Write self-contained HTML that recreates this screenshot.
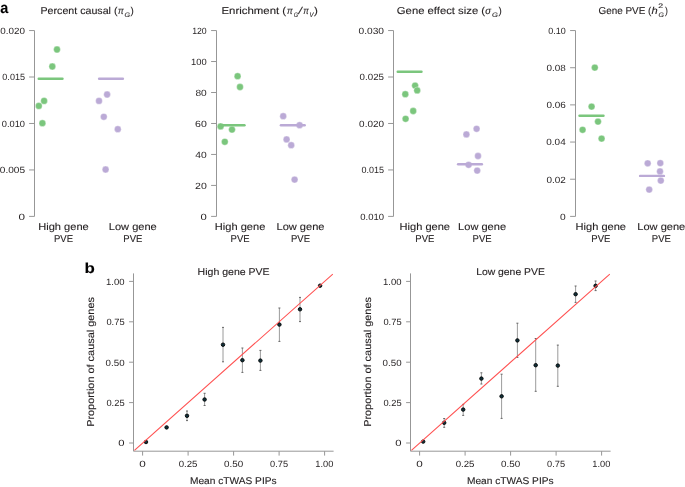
<!DOCTYPE html>
<html><head><meta charset="utf-8"><style>
html,body{margin:0;padding:0;background:#fff;}
body{width:685px;height:487px;overflow:hidden;}
text{stroke:#231f20;stroke-width:0.12px;}
text.k{stroke:none;}
svg{display:block;will-change:transform;font-family:"Liberation Sans",sans-serif;text-rendering:geometricPrecision;}
</style></head><body>
<svg width="685" height="487" viewBox="0 0 685 487">
<rect width="685" height="487" fill="#fff"/>
<text x="0.18" y="13.20" font-size="15.5" font-weight="bold" font-style="normal" fill="#000" textLength="8.03" lengthAdjust="spacingAndGlyphs">a</text>
<text x="84.59" y="273.40" font-size="14.5" font-weight="bold" font-style="normal" fill="#000" textLength="10.30" lengthAdjust="spacingAndGlyphs">b</text>
<line x1="34.5" y1="30.55" x2="34.5" y2="216.4" stroke="#979797" stroke-width="1" stroke-linecap="butt"/>
<line x1="29.1" y1="30.55" x2="34.5" y2="30.55" stroke="#979797" stroke-width="1" stroke-linecap="butt"/>
<text class="k" x="0.31" y="33.85" font-size="9.0" font-weight="normal" font-style="normal" fill="#231f20" textLength="24.67" lengthAdjust="spacingAndGlyphs">0.020</text>
<line x1="29.1" y1="77.0125" x2="34.5" y2="77.0125" stroke="#979797" stroke-width="1" stroke-linecap="butt"/>
<text class="k" x="2.35" y="80.31" font-size="9.0" font-weight="normal" font-style="normal" fill="#231f20" textLength="22.63" lengthAdjust="spacingAndGlyphs">0.015</text>
<line x1="29.1" y1="123.475" x2="34.5" y2="123.475" stroke="#979797" stroke-width="1" stroke-linecap="butt"/>
<text class="k" x="1.74" y="126.77" font-size="9.0" font-weight="normal" font-style="normal" fill="#231f20" textLength="23.23" lengthAdjust="spacingAndGlyphs">0.010</text>
<line x1="29.1" y1="169.9375" x2="34.5" y2="169.9375" stroke="#979797" stroke-width="1" stroke-linecap="butt"/>
<text class="k" x="-0.19" y="173.24" font-size="9.0" font-weight="normal" font-style="normal" fill="#231f20" textLength="25.22" lengthAdjust="spacingAndGlyphs">0.005</text>
<line x1="29.1" y1="216.4" x2="34.5" y2="216.4" stroke="#979797" stroke-width="1" stroke-linecap="butt"/>
<text class="k" x="18.54" y="219.70" font-size="9.0" font-weight="normal" font-style="normal" fill="#231f20" textLength="6.52" lengthAdjust="spacingAndGlyphs">0</text>
<circle cx="57" cy="49.5" r="3.4" fill="#7bc67d" stroke="#fff" stroke-width="0.35"/>
<circle cx="52.3" cy="66.5" r="3.4" fill="#7bc67d" stroke="#fff" stroke-width="0.35"/>
<circle cx="44.1" cy="100.9" r="3.4" fill="#7bc67d" stroke="#fff" stroke-width="0.35"/>
<circle cx="38.8" cy="105.9" r="3.4" fill="#7bc67d" stroke="#fff" stroke-width="0.35"/>
<circle cx="42.4" cy="123.2" r="3.4" fill="#7bc67d" stroke="#fff" stroke-width="0.35"/>
<line x1="38.7" y1="78.69999999999999" x2="62.5" y2="78.69999999999999" stroke="#7bc67d" stroke-width="2.4" stroke-linecap="round"/>
<circle cx="107.1" cy="94.5" r="3.4" fill="#bbaad6" stroke="#fff" stroke-width="0.35"/>
<circle cx="99" cy="100.9" r="3.4" fill="#bbaad6" stroke="#fff" stroke-width="0.35"/>
<circle cx="103.8" cy="116.8" r="3.4" fill="#bbaad6" stroke="#fff" stroke-width="0.35"/>
<circle cx="117.8" cy="129.2" r="3.4" fill="#bbaad6" stroke="#fff" stroke-width="0.35"/>
<circle cx="105.6" cy="169.5" r="3.4" fill="#bbaad6" stroke="#fff" stroke-width="0.35"/>
<line x1="99.1" y1="78.69999999999999" x2="122.9" y2="78.69999999999999" stroke="#bbaad6" stroke-width="2.4" stroke-linecap="round"/>
<text x="38.24" y="230.00" font-size="10.0" font-weight="normal" font-style="normal" fill="#231f20" textLength="50.50" lengthAdjust="spacingAndGlyphs">High gene</text>
<text x="54.02" y="241.90" font-size="10.0" font-weight="normal" font-style="normal" fill="#231f20" textLength="18.99" lengthAdjust="spacingAndGlyphs">PVE</text>
<text x="108.79" y="230.00" font-size="10.0" font-weight="normal" font-style="normal" fill="#231f20" textLength="48.00" lengthAdjust="spacingAndGlyphs">Low gene</text>
<text x="123.32" y="241.90" font-size="10.0" font-weight="normal" font-style="normal" fill="#231f20" textLength="18.99" lengthAdjust="spacingAndGlyphs">PVE</text>
<line x1="216.5" y1="30.55" x2="216.5" y2="216.4" stroke="#979797" stroke-width="1" stroke-linecap="butt"/>
<line x1="211.1" y1="30.55" x2="216.5" y2="30.55" stroke="#979797" stroke-width="1" stroke-linecap="butt"/>
<text class="k" x="192.13" y="33.85" font-size="9.0" font-weight="normal" font-style="normal" fill="#231f20" textLength="14.61" lengthAdjust="spacingAndGlyphs">120</text>
<line x1="211.1" y1="61.525" x2="216.5" y2="61.525" stroke="#979797" stroke-width="1" stroke-linecap="butt"/>
<text class="k" x="191.08" y="64.83" font-size="9.0" font-weight="normal" font-style="normal" fill="#231f20" textLength="15.68" lengthAdjust="spacingAndGlyphs">100</text>
<line x1="211.1" y1="92.5" x2="216.5" y2="92.5" stroke="#979797" stroke-width="1" stroke-linecap="butt"/>
<text class="k" x="195.46" y="95.80" font-size="9.0" font-weight="normal" font-style="normal" fill="#231f20" textLength="11.34" lengthAdjust="spacingAndGlyphs">80</text>
<line x1="211.1" y1="123.475" x2="216.5" y2="123.475" stroke="#979797" stroke-width="1" stroke-linecap="butt"/>
<text class="k" x="195.06" y="126.77" font-size="9.0" font-weight="normal" font-style="normal" fill="#231f20" textLength="11.75" lengthAdjust="spacingAndGlyphs">60</text>
<line x1="211.1" y1="154.45" x2="216.5" y2="154.45" stroke="#979797" stroke-width="1" stroke-linecap="butt"/>
<text class="k" x="195.36" y="157.75" font-size="9.0" font-weight="normal" font-style="normal" fill="#231f20" textLength="11.44" lengthAdjust="spacingAndGlyphs">40</text>
<line x1="211.1" y1="185.425" x2="216.5" y2="185.425" stroke="#979797" stroke-width="1" stroke-linecap="butt"/>
<text class="k" x="195.07" y="188.73" font-size="9.0" font-weight="normal" font-style="normal" fill="#231f20" textLength="11.74" lengthAdjust="spacingAndGlyphs">20</text>
<line x1="211.1" y1="216.4" x2="216.5" y2="216.4" stroke="#979797" stroke-width="1" stroke-linecap="butt"/>
<text class="k" x="200.56" y="219.70" font-size="9.0" font-weight="normal" font-style="normal" fill="#231f20" textLength="6.28" lengthAdjust="spacingAndGlyphs">0</text>
<circle cx="237.6" cy="76.2" r="3.4" fill="#7bc67d" stroke="#fff" stroke-width="0.35"/>
<circle cx="240" cy="87" r="3.4" fill="#7bc67d" stroke="#fff" stroke-width="0.35"/>
<circle cx="220.6" cy="126.4" r="3.4" fill="#7bc67d" stroke="#fff" stroke-width="0.35"/>
<circle cx="232" cy="129.6" r="3.4" fill="#7bc67d" stroke="#fff" stroke-width="0.35"/>
<circle cx="224.8" cy="141.8" r="3.4" fill="#7bc67d" stroke="#fff" stroke-width="0.35"/>
<line x1="220.1" y1="125.3" x2="244.5" y2="125.3" stroke="#7bc67d" stroke-width="2.4" stroke-linecap="round"/>
<circle cx="283.2" cy="116.2" r="3.4" fill="#bbaad6" stroke="#fff" stroke-width="0.35"/>
<circle cx="299.6" cy="125.2" r="3.4" fill="#bbaad6" stroke="#fff" stroke-width="0.35"/>
<circle cx="286.6" cy="139.4" r="3.4" fill="#bbaad6" stroke="#fff" stroke-width="0.35"/>
<circle cx="291.2" cy="145.2" r="3.4" fill="#bbaad6" stroke="#fff" stroke-width="0.35"/>
<circle cx="294.6" cy="179.6" r="3.4" fill="#bbaad6" stroke="#fff" stroke-width="0.35"/>
<line x1="280.90000000000003" y1="125.3" x2="304.7" y2="125.3" stroke="#bbaad6" stroke-width="2.4" stroke-linecap="round"/>
<text x="214.84" y="230.00" font-size="10.0" font-weight="normal" font-style="normal" fill="#231f20" textLength="50.50" lengthAdjust="spacingAndGlyphs">High gene</text>
<text x="230.62" y="241.90" font-size="10.0" font-weight="normal" font-style="normal" fill="#231f20" textLength="18.99" lengthAdjust="spacingAndGlyphs">PVE</text>
<text x="276.49" y="230.00" font-size="10.0" font-weight="normal" font-style="normal" fill="#231f20" textLength="48.00" lengthAdjust="spacingAndGlyphs">Low gene</text>
<text x="291.02" y="241.90" font-size="10.0" font-weight="normal" font-style="normal" fill="#231f20" textLength="18.99" lengthAdjust="spacingAndGlyphs">PVE</text>
<line x1="393.5" y1="30.55" x2="393.5" y2="216.4" stroke="#979797" stroke-width="1" stroke-linecap="butt"/>
<line x1="388.1" y1="30.55" x2="393.5" y2="30.55" stroke="#979797" stroke-width="1" stroke-linecap="butt"/>
<text class="k" x="358.50" y="33.85" font-size="9.0" font-weight="normal" font-style="normal" fill="#231f20" textLength="25.50" lengthAdjust="spacingAndGlyphs">0.030</text>
<line x1="388.1" y1="77.0125" x2="393.5" y2="77.0125" stroke="#979797" stroke-width="1" stroke-linecap="butt"/>
<text class="k" x="359.62" y="80.31" font-size="9.0" font-weight="normal" font-style="normal" fill="#231f20" textLength="24.39" lengthAdjust="spacingAndGlyphs">0.025</text>
<line x1="388.1" y1="123.475" x2="393.5" y2="123.475" stroke="#979797" stroke-width="1" stroke-linecap="butt"/>
<text class="k" x="359.11" y="126.77" font-size="9.0" font-weight="normal" font-style="normal" fill="#231f20" textLength="24.88" lengthAdjust="spacingAndGlyphs">0.020</text>
<line x1="388.1" y1="169.9375" x2="393.5" y2="169.9375" stroke="#979797" stroke-width="1" stroke-linecap="butt"/>
<text class="k" x="361.45" y="173.24" font-size="9.0" font-weight="normal" font-style="normal" fill="#231f20" textLength="22.53" lengthAdjust="spacingAndGlyphs">0.015</text>
<line x1="388.1" y1="216.4" x2="393.5" y2="216.4" stroke="#979797" stroke-width="1" stroke-linecap="butt"/>
<text class="k" x="360.23" y="219.70" font-size="9.0" font-weight="normal" font-style="normal" fill="#231f20" textLength="23.74" lengthAdjust="spacingAndGlyphs">0.010</text>
<circle cx="415.1" cy="85.6" r="3.4" fill="#7bc67d" stroke="#fff" stroke-width="0.35"/>
<circle cx="417.2" cy="90.4" r="3.4" fill="#7bc67d" stroke="#fff" stroke-width="0.35"/>
<circle cx="405.3" cy="94.2" r="3.4" fill="#7bc67d" stroke="#fff" stroke-width="0.35"/>
<circle cx="413.2" cy="111" r="3.4" fill="#7bc67d" stroke="#fff" stroke-width="0.35"/>
<circle cx="405.6" cy="118.8" r="3.4" fill="#7bc67d" stroke="#fff" stroke-width="0.35"/>
<line x1="397.70000000000005" y1="71.69999999999999" x2="421.5" y2="71.69999999999999" stroke="#7bc67d" stroke-width="2.4" stroke-linecap="round"/>
<circle cx="476.6" cy="128.8" r="3.4" fill="#bbaad6" stroke="#fff" stroke-width="0.35"/>
<circle cx="466.4" cy="134.4" r="3.4" fill="#bbaad6" stroke="#fff" stroke-width="0.35"/>
<circle cx="478" cy="156" r="3.4" fill="#bbaad6" stroke="#fff" stroke-width="0.35"/>
<circle cx="468.6" cy="164.8" r="3.4" fill="#bbaad6" stroke="#fff" stroke-width="0.35"/>
<circle cx="477.2" cy="170.6" r="3.4" fill="#bbaad6" stroke="#fff" stroke-width="0.35"/>
<line x1="458.1" y1="164.29999999999998" x2="481.9" y2="164.29999999999998" stroke="#bbaad6" stroke-width="2.4" stroke-linecap="round"/>
<text x="399.54" y="230.00" font-size="10.0" font-weight="normal" font-style="normal" fill="#231f20" textLength="50.50" lengthAdjust="spacingAndGlyphs">High gene</text>
<text x="415.32" y="241.90" font-size="10.0" font-weight="normal" font-style="normal" fill="#231f20" textLength="18.99" lengthAdjust="spacingAndGlyphs">PVE</text>
<text x="458.09" y="230.00" font-size="10.0" font-weight="normal" font-style="normal" fill="#231f20" textLength="48.00" lengthAdjust="spacingAndGlyphs">Low gene</text>
<text x="472.62" y="241.90" font-size="10.0" font-weight="normal" font-style="normal" fill="#231f20" textLength="18.99" lengthAdjust="spacingAndGlyphs">PVE</text>
<line x1="575.5" y1="30.55" x2="575.5" y2="216.4" stroke="#979797" stroke-width="1" stroke-linecap="butt"/>
<line x1="570.1" y1="30.55" x2="575.5" y2="30.55" stroke="#979797" stroke-width="1" stroke-linecap="butt"/>
<text class="k" x="548.25" y="33.85" font-size="9.0" font-weight="normal" font-style="normal" fill="#231f20" textLength="17.50" lengthAdjust="spacingAndGlyphs">0.10</text>
<line x1="570.1" y1="67.72" x2="575.5" y2="67.72" stroke="#979797" stroke-width="1" stroke-linecap="butt"/>
<text class="k" x="546.51" y="71.02" font-size="9.0" font-weight="normal" font-style="normal" fill="#231f20" textLength="19.32" lengthAdjust="spacingAndGlyphs">0.08</text>
<line x1="570.1" y1="104.89" x2="575.5" y2="104.89" stroke="#979797" stroke-width="1" stroke-linecap="butt"/>
<text class="k" x="546.51" y="108.19" font-size="9.0" font-weight="normal" font-style="normal" fill="#231f20" textLength="19.32" lengthAdjust="spacingAndGlyphs">0.06</text>
<line x1="570.1" y1="142.06" x2="575.5" y2="142.06" stroke="#979797" stroke-width="1" stroke-linecap="butt"/>
<text class="k" x="546.31" y="145.36" font-size="9.0" font-weight="normal" font-style="normal" fill="#231f20" textLength="19.38" lengthAdjust="spacingAndGlyphs">0.04</text>
<line x1="570.1" y1="179.23000000000002" x2="575.5" y2="179.23000000000002" stroke="#979797" stroke-width="1" stroke-linecap="butt"/>
<text class="k" x="546.51" y="182.53" font-size="9.0" font-weight="normal" font-style="normal" fill="#231f20" textLength="19.39" lengthAdjust="spacingAndGlyphs">0.02</text>
<line x1="570.1" y1="216.4" x2="575.5" y2="216.4" stroke="#979797" stroke-width="1" stroke-linecap="butt"/>
<text class="k" x="560.10" y="219.70" font-size="9.0" font-weight="normal" font-style="normal" fill="#231f20" textLength="5.70" lengthAdjust="spacingAndGlyphs">0</text>
<circle cx="594.8" cy="67.6" r="3.4" fill="#7bc67d" stroke="#fff" stroke-width="0.35"/>
<circle cx="591.6" cy="106.6" r="3.4" fill="#7bc67d" stroke="#fff" stroke-width="0.35"/>
<circle cx="598" cy="121.6" r="3.4" fill="#7bc67d" stroke="#fff" stroke-width="0.35"/>
<circle cx="582.6" cy="129.8" r="3.4" fill="#7bc67d" stroke="#fff" stroke-width="0.35"/>
<circle cx="601.6" cy="138.6" r="3.4" fill="#7bc67d" stroke="#fff" stroke-width="0.35"/>
<line x1="579.5" y1="115.69999999999999" x2="603.5" y2="115.69999999999999" stroke="#7bc67d" stroke-width="2.4" stroke-linecap="round"/>
<circle cx="647.7" cy="163.3" r="3.4" fill="#bbaad6" stroke="#fff" stroke-width="0.35"/>
<circle cx="660.3" cy="163.1" r="3.4" fill="#bbaad6" stroke="#fff" stroke-width="0.35"/>
<circle cx="660" cy="171.4" r="3.4" fill="#bbaad6" stroke="#fff" stroke-width="0.35"/>
<circle cx="660.8" cy="180.6" r="3.4" fill="#bbaad6" stroke="#fff" stroke-width="0.35"/>
<circle cx="649.2" cy="189.6" r="3.4" fill="#bbaad6" stroke="#fff" stroke-width="0.35"/>
<line x1="640.1" y1="175.9" x2="663.9" y2="175.9" stroke="#bbaad6" stroke-width="2.4" stroke-linecap="round"/>
<text x="575.54" y="230.00" font-size="10.0" font-weight="normal" font-style="normal" fill="#231f20" textLength="50.50" lengthAdjust="spacingAndGlyphs">High gene</text>
<text x="591.32" y="241.90" font-size="10.0" font-weight="normal" font-style="normal" fill="#231f20" textLength="18.99" lengthAdjust="spacingAndGlyphs">PVE</text>
<text x="637.29" y="230.00" font-size="10.0" font-weight="normal" font-style="normal" fill="#231f20" textLength="48.00" lengthAdjust="spacingAndGlyphs">Low gene</text>
<text x="651.82" y="241.90" font-size="10.0" font-weight="normal" font-style="normal" fill="#231f20" textLength="18.99" lengthAdjust="spacingAndGlyphs">PVE</text>
<text x="40.53" y="13.90" font-size="10.0" font-weight="normal" font-style="normal" fill="#231f20" textLength="76.94" lengthAdjust="spacingAndGlyphs">Percent causal (</text>
<text x="118.12" y="13.90" font-size="10.0" font-weight="normal" font-style="italic" fill="#231f20" textLength="5.75" lengthAdjust="spacingAndGlyphs">π</text>
<text x="124.55" y="16.90" font-size="6.4" font-weight="normal" font-style="italic" fill="#231f20" textLength="5.56" lengthAdjust="spacingAndGlyphs">G</text>
<text x="130.44" y="13.90" font-size="10.0" font-weight="normal" font-style="normal" fill="#231f20" textLength="3.27" lengthAdjust="spacingAndGlyphs">)</text>
<text x="221.46" y="13.90" font-size="10.0" font-weight="normal" font-style="normal" fill="#231f20" textLength="64.70" lengthAdjust="spacingAndGlyphs">Enrichment (</text>
<text x="287.12" y="13.90" font-size="10.0" font-weight="normal" font-style="italic" fill="#231f20" textLength="5.75" lengthAdjust="spacingAndGlyphs">π</text>
<text x="293.83" y="16.90" font-size="6.4" font-weight="normal" font-style="italic" fill="#231f20" textLength="4.31" lengthAdjust="spacingAndGlyphs">G</text>
<text x="298.60" y="13.90" font-size="10.0" font-weight="normal" font-style="italic" fill="#231f20" textLength="3.44" lengthAdjust="spacingAndGlyphs">/</text>
<text x="303.33" y="13.90" font-size="10.0" font-weight="normal" font-style="italic" fill="#231f20" textLength="5.54" lengthAdjust="spacingAndGlyphs">π</text>
<text x="309.39" y="16.90" font-size="6.4" font-weight="normal" font-style="italic" fill="#231f20" textLength="3.95" lengthAdjust="spacingAndGlyphs">V</text>
<text x="314.13" y="13.90" font-size="10.0" font-weight="normal" font-style="normal" fill="#231f20" textLength="3.89" lengthAdjust="spacingAndGlyphs">)</text>
<text x="396.83" y="13.90" font-size="10.0" font-weight="normal" font-style="normal" fill="#231f20" textLength="88.23" lengthAdjust="spacingAndGlyphs">Gene effect size (</text>
<text x="485.19" y="13.90" font-size="10.0" font-weight="normal" font-style="italic" fill="#231f20" textLength="5.72" lengthAdjust="spacingAndGlyphs">σ</text>
<text x="492.13" y="16.90" font-size="6.4" font-weight="normal" font-style="italic" fill="#231f20" textLength="5.90" lengthAdjust="spacingAndGlyphs">G</text>
<text x="498.54" y="13.90" font-size="10.0" font-weight="normal" font-style="normal" fill="#231f20" textLength="3.27" lengthAdjust="spacingAndGlyphs">)</text>
<text x="598.50" y="13.90" font-size="10.0" font-weight="normal" font-style="normal" fill="#231f20" textLength="52.86" lengthAdjust="spacingAndGlyphs">Gene PVE (</text>
<text x="651.42" y="13.90" font-size="10.0" font-weight="normal" font-style="italic" fill="#231f20" textLength="6.20" lengthAdjust="spacingAndGlyphs">h</text>
<text x="658.16" y="8.00" font-size="6.4" font-weight="normal" font-style="normal" fill="#231f20" textLength="4.88" lengthAdjust="spacingAndGlyphs">2</text>
<text x="658.55" y="16.60" font-size="6.4" font-weight="normal" font-style="italic" fill="#231f20" textLength="5.45" lengthAdjust="spacingAndGlyphs">G</text>
<text x="664.95" y="13.90" font-size="10.0" font-weight="normal" font-style="normal" fill="#231f20" textLength="2.89" lengthAdjust="spacingAndGlyphs">)</text>
<clipPath id="clip0"><rect x="133.5" y="273.4" width="200.4" height="177.8"/></clipPath>
<path d="M133.5 273.4 V451.2 H333.6" fill="none" stroke="#979797" stroke-width="1"/>
<line x1="129.1" y1="443.0" x2="133.5" y2="443.0" stroke="#979797" stroke-width="1" stroke-linecap="butt"/>
<text class="k" x="118.36" y="446.30" font-size="9.0" font-weight="normal" font-style="normal" fill="#231f20" textLength="6.28" lengthAdjust="spacingAndGlyphs">0</text>
<line x1="142.6" y1="451.2" x2="142.6" y2="455.59999999999997" stroke="#979797" stroke-width="1" stroke-linecap="butt"/>
<text class="k" x="139.34" y="466.80" font-size="9.0" font-weight="normal" font-style="normal" fill="#231f20" textLength="6.52" lengthAdjust="spacingAndGlyphs">0</text>
<line x1="129.1" y1="402.6" x2="133.5" y2="402.6" stroke="#979797" stroke-width="1" stroke-linecap="butt"/>
<text class="k" x="106.44" y="405.90" font-size="9.0" font-weight="normal" font-style="normal" fill="#231f20" textLength="18.16" lengthAdjust="spacingAndGlyphs">0.25</text>
<line x1="188.1" y1="451.2" x2="188.1" y2="455.59999999999997" stroke="#979797" stroke-width="1" stroke-linecap="butt"/>
<text class="k" x="178.72" y="466.80" font-size="9.0" font-weight="normal" font-style="normal" fill="#231f20" textLength="18.78" lengthAdjust="spacingAndGlyphs">0.25</text>
<line x1="129.1" y1="362.2" x2="133.5" y2="362.2" stroke="#979797" stroke-width="1" stroke-linecap="butt"/>
<text class="k" x="105.62" y="365.50" font-size="9.0" font-weight="normal" font-style="normal" fill="#231f20" textLength="18.96" lengthAdjust="spacingAndGlyphs">0.50</text>
<line x1="233.6" y1="451.2" x2="233.6" y2="455.59999999999997" stroke="#979797" stroke-width="1" stroke-linecap="butt"/>
<text class="k" x="224.02" y="466.80" font-size="9.0" font-weight="normal" font-style="normal" fill="#231f20" textLength="19.17" lengthAdjust="spacingAndGlyphs">0.50</text>
<line x1="129.1" y1="321.8" x2="133.5" y2="321.8" stroke="#979797" stroke-width="1" stroke-linecap="butt"/>
<text class="k" x="106.44" y="325.10" font-size="9.0" font-weight="normal" font-style="normal" fill="#231f20" textLength="18.16" lengthAdjust="spacingAndGlyphs">0.75</text>
<line x1="279.1" y1="451.2" x2="279.1" y2="455.59999999999997" stroke="#979797" stroke-width="1" stroke-linecap="butt"/>
<text class="k" x="270.14" y="466.80" font-size="9.0" font-weight="normal" font-style="normal" fill="#231f20" textLength="17.95" lengthAdjust="spacingAndGlyphs">0.75</text>
<line x1="129.1" y1="281.4" x2="133.5" y2="281.4" stroke="#979797" stroke-width="1" stroke-linecap="butt"/>
<text class="k" x="106.08" y="284.70" font-size="9.0" font-weight="normal" font-style="normal" fill="#231f20" textLength="18.50" lengthAdjust="spacingAndGlyphs">1.00</text>
<line x1="324.6" y1="451.2" x2="324.6" y2="455.59999999999997" stroke="#979797" stroke-width="1" stroke-linecap="butt"/>
<text class="k" x="315.39" y="466.80" font-size="9.0" font-weight="normal" font-style="normal" fill="#231f20" textLength="18.07" lengthAdjust="spacingAndGlyphs">1.00</text>
<circle cx="146.0" cy="442.0" r="1.75" fill="#10303a" stroke="#020405" stroke-width="0.9"/>
<circle cx="166.6" cy="427.4" r="1.75" fill="#10303a" stroke="#020405" stroke-width="0.9"/>
<line x1="187.0" y1="411.0" x2="187.0" y2="420.6" stroke="#828282" stroke-width="0.8" stroke-linecap="butt"/>
<line x1="186.0" y1="411.0" x2="188.0" y2="411.0" stroke="#5a5a5a" stroke-width="0.9" stroke-linecap="butt"/>
<line x1="186.0" y1="420.6" x2="188.0" y2="420.6" stroke="#5a5a5a" stroke-width="0.9" stroke-linecap="butt"/>
<circle cx="187.0" cy="415.8" r="1.75" fill="#10303a" stroke="#020405" stroke-width="0.9"/>
<line x1="204.6" y1="393.3" x2="204.6" y2="405.5" stroke="#828282" stroke-width="0.8" stroke-linecap="butt"/>
<line x1="203.6" y1="393.3" x2="205.6" y2="393.3" stroke="#5a5a5a" stroke-width="0.9" stroke-linecap="butt"/>
<line x1="203.6" y1="405.5" x2="205.6" y2="405.5" stroke="#5a5a5a" stroke-width="0.9" stroke-linecap="butt"/>
<circle cx="204.6" cy="399.5" r="1.75" fill="#10303a" stroke="#020405" stroke-width="0.9"/>
<line x1="223.0" y1="327.4" x2="223.0" y2="361.8" stroke="#828282" stroke-width="0.8" stroke-linecap="butt"/>
<line x1="222.0" y1="327.4" x2="224.0" y2="327.4" stroke="#5a5a5a" stroke-width="0.9" stroke-linecap="butt"/>
<line x1="222.0" y1="361.8" x2="224.0" y2="361.8" stroke="#5a5a5a" stroke-width="0.9" stroke-linecap="butt"/>
<circle cx="223.0" cy="344.7" r="1.75" fill="#10303a" stroke="#020405" stroke-width="0.9"/>
<line x1="242.4" y1="348.0" x2="242.4" y2="372.4" stroke="#828282" stroke-width="0.8" stroke-linecap="butt"/>
<line x1="241.4" y1="348.0" x2="243.4" y2="348.0" stroke="#5a5a5a" stroke-width="0.9" stroke-linecap="butt"/>
<line x1="241.4" y1="372.4" x2="243.4" y2="372.4" stroke="#5a5a5a" stroke-width="0.9" stroke-linecap="butt"/>
<circle cx="242.4" cy="360.2" r="1.75" fill="#10303a" stroke="#020405" stroke-width="0.9"/>
<line x1="260.4" y1="350.4" x2="260.4" y2="370.4" stroke="#828282" stroke-width="0.8" stroke-linecap="butt"/>
<line x1="259.4" y1="350.4" x2="261.4" y2="350.4" stroke="#5a5a5a" stroke-width="0.9" stroke-linecap="butt"/>
<line x1="259.4" y1="370.4" x2="261.4" y2="370.4" stroke="#5a5a5a" stroke-width="0.9" stroke-linecap="butt"/>
<circle cx="260.4" cy="360.6" r="1.75" fill="#10303a" stroke="#020405" stroke-width="0.9"/>
<line x1="279.4" y1="308.0" x2="279.4" y2="341.4" stroke="#828282" stroke-width="0.8" stroke-linecap="butt"/>
<line x1="278.4" y1="308.0" x2="280.4" y2="308.0" stroke="#5a5a5a" stroke-width="0.9" stroke-linecap="butt"/>
<line x1="278.4" y1="341.4" x2="280.4" y2="341.4" stroke="#5a5a5a" stroke-width="0.9" stroke-linecap="butt"/>
<circle cx="279.4" cy="324.6" r="1.75" fill="#10303a" stroke="#020405" stroke-width="0.9"/>
<line x1="300.0" y1="297.4" x2="300.0" y2="321.6" stroke="#828282" stroke-width="0.8" stroke-linecap="butt"/>
<line x1="299.0" y1="297.4" x2="301.0" y2="297.4" stroke="#5a5a5a" stroke-width="0.9" stroke-linecap="butt"/>
<line x1="299.0" y1="321.6" x2="301.0" y2="321.6" stroke="#5a5a5a" stroke-width="0.9" stroke-linecap="butt"/>
<circle cx="300.0" cy="309.3" r="1.75" fill="#10303a" stroke="#020405" stroke-width="0.9"/>
<circle cx="320.1" cy="285.7" r="1.75" fill="#10303a" stroke="#020405" stroke-width="0.9"/>
<line x1="134.41" y1="450.27" x2="332.79" y2="274.13" stroke="#ff4f4f" stroke-width="1.05"/>
<text x="197.64" y="274.60" font-size="9.7" font-weight="normal" font-style="normal" fill="#231f20" textLength="72.02" lengthAdjust="spacingAndGlyphs">High gene PVE</text>
<text x="189.97" y="483.90" font-size="9.8" font-weight="normal" font-style="normal" fill="#231f20" textLength="86.60" lengthAdjust="spacingAndGlyphs">Mean cTWAS PIPs</text>
<g transform="translate(93.8 361.75) rotate(-90)">
<text x="-65.14" y="0" font-size="10.0" fill="#231f20" textLength="129.79" lengthAdjust="spacingAndGlyphs">Proportion of causal genes</text>
</g>
<clipPath id="clip277"><rect x="410.5" y="273.4" width="200.4" height="177.8"/></clipPath>
<path d="M410.5 273.4 V451.2 H610.6" fill="none" stroke="#979797" stroke-width="1"/>
<line x1="406.1" y1="443.0" x2="410.5" y2="443.0" stroke="#979797" stroke-width="1" stroke-linecap="butt"/>
<text class="k" x="395.36" y="446.30" font-size="9.0" font-weight="normal" font-style="normal" fill="#231f20" textLength="6.28" lengthAdjust="spacingAndGlyphs">0</text>
<line x1="419.6" y1="451.2" x2="419.6" y2="455.59999999999997" stroke="#979797" stroke-width="1" stroke-linecap="butt"/>
<text class="k" x="416.34" y="466.80" font-size="9.0" font-weight="normal" font-style="normal" fill="#231f20" textLength="6.52" lengthAdjust="spacingAndGlyphs">0</text>
<line x1="406.1" y1="402.6" x2="410.5" y2="402.6" stroke="#979797" stroke-width="1" stroke-linecap="butt"/>
<text class="k" x="383.44" y="405.90" font-size="9.0" font-weight="normal" font-style="normal" fill="#231f20" textLength="18.16" lengthAdjust="spacingAndGlyphs">0.25</text>
<line x1="465.1" y1="451.2" x2="465.1" y2="455.59999999999997" stroke="#979797" stroke-width="1" stroke-linecap="butt"/>
<text class="k" x="455.72" y="466.80" font-size="9.0" font-weight="normal" font-style="normal" fill="#231f20" textLength="18.78" lengthAdjust="spacingAndGlyphs">0.25</text>
<line x1="406.1" y1="362.2" x2="410.5" y2="362.2" stroke="#979797" stroke-width="1" stroke-linecap="butt"/>
<text class="k" x="382.62" y="365.50" font-size="9.0" font-weight="normal" font-style="normal" fill="#231f20" textLength="18.96" lengthAdjust="spacingAndGlyphs">0.50</text>
<line x1="510.6" y1="451.2" x2="510.6" y2="455.59999999999997" stroke="#979797" stroke-width="1" stroke-linecap="butt"/>
<text class="k" x="501.02" y="466.80" font-size="9.0" font-weight="normal" font-style="normal" fill="#231f20" textLength="19.17" lengthAdjust="spacingAndGlyphs">0.50</text>
<line x1="406.1" y1="321.8" x2="410.5" y2="321.8" stroke="#979797" stroke-width="1" stroke-linecap="butt"/>
<text class="k" x="383.44" y="325.10" font-size="9.0" font-weight="normal" font-style="normal" fill="#231f20" textLength="18.16" lengthAdjust="spacingAndGlyphs">0.75</text>
<line x1="556.1" y1="451.2" x2="556.1" y2="455.59999999999997" stroke="#979797" stroke-width="1" stroke-linecap="butt"/>
<text class="k" x="547.14" y="466.80" font-size="9.0" font-weight="normal" font-style="normal" fill="#231f20" textLength="17.95" lengthAdjust="spacingAndGlyphs">0.75</text>
<line x1="406.1" y1="281.4" x2="410.5" y2="281.4" stroke="#979797" stroke-width="1" stroke-linecap="butt"/>
<text class="k" x="383.08" y="284.70" font-size="9.0" font-weight="normal" font-style="normal" fill="#231f20" textLength="18.50" lengthAdjust="spacingAndGlyphs">1.00</text>
<line x1="601.6" y1="451.2" x2="601.6" y2="455.59999999999997" stroke="#979797" stroke-width="1" stroke-linecap="butt"/>
<text class="k" x="592.39" y="466.80" font-size="9.0" font-weight="normal" font-style="normal" fill="#231f20" textLength="18.07" lengthAdjust="spacingAndGlyphs">1.00</text>
<circle cx="423.2" cy="441.6" r="1.75" fill="#10303a" stroke="#020405" stroke-width="0.9"/>
<line x1="444.2" y1="418.5" x2="444.2" y2="427.3" stroke="#828282" stroke-width="0.8" stroke-linecap="butt"/>
<line x1="443.2" y1="418.5" x2="445.2" y2="418.5" stroke="#5a5a5a" stroke-width="0.9" stroke-linecap="butt"/>
<line x1="443.2" y1="427.3" x2="445.2" y2="427.3" stroke="#5a5a5a" stroke-width="0.9" stroke-linecap="butt"/>
<circle cx="444.2" cy="422.8" r="1.75" fill="#10303a" stroke="#020405" stroke-width="0.9"/>
<line x1="463.2" y1="404.4" x2="463.2" y2="415.4" stroke="#828282" stroke-width="0.8" stroke-linecap="butt"/>
<line x1="462.2" y1="404.4" x2="464.2" y2="404.4" stroke="#5a5a5a" stroke-width="0.9" stroke-linecap="butt"/>
<line x1="462.2" y1="415.4" x2="464.2" y2="415.4" stroke="#5a5a5a" stroke-width="0.9" stroke-linecap="butt"/>
<circle cx="463.2" cy="409.6" r="1.75" fill="#10303a" stroke="#020405" stroke-width="0.9"/>
<line x1="481.4" y1="372.8" x2="481.4" y2="384.0" stroke="#828282" stroke-width="0.8" stroke-linecap="butt"/>
<line x1="480.4" y1="372.8" x2="482.4" y2="372.8" stroke="#5a5a5a" stroke-width="0.9" stroke-linecap="butt"/>
<line x1="480.4" y1="384.0" x2="482.4" y2="384.0" stroke="#5a5a5a" stroke-width="0.9" stroke-linecap="butt"/>
<circle cx="481.4" cy="378.6" r="1.75" fill="#10303a" stroke="#020405" stroke-width="0.9"/>
<line x1="501.6" y1="374.2" x2="501.6" y2="418.4" stroke="#828282" stroke-width="0.8" stroke-linecap="butt"/>
<line x1="500.6" y1="374.2" x2="502.6" y2="374.2" stroke="#5a5a5a" stroke-width="0.9" stroke-linecap="butt"/>
<line x1="500.6" y1="418.4" x2="502.6" y2="418.4" stroke="#5a5a5a" stroke-width="0.9" stroke-linecap="butt"/>
<circle cx="501.6" cy="396.3" r="1.75" fill="#10303a" stroke="#020405" stroke-width="0.9"/>
<line x1="517.4" y1="323.2" x2="517.4" y2="357.4" stroke="#828282" stroke-width="0.8" stroke-linecap="butt"/>
<line x1="516.4" y1="323.2" x2="518.4" y2="323.2" stroke="#5a5a5a" stroke-width="0.9" stroke-linecap="butt"/>
<line x1="516.4" y1="357.4" x2="518.4" y2="357.4" stroke="#5a5a5a" stroke-width="0.9" stroke-linecap="butt"/>
<circle cx="517.4" cy="340.4" r="1.75" fill="#10303a" stroke="#020405" stroke-width="0.9"/>
<line x1="535.7" y1="338.5" x2="535.7" y2="391.3" stroke="#828282" stroke-width="0.8" stroke-linecap="butt"/>
<line x1="534.7" y1="338.5" x2="536.7" y2="338.5" stroke="#5a5a5a" stroke-width="0.9" stroke-linecap="butt"/>
<line x1="534.7" y1="391.3" x2="536.7" y2="391.3" stroke="#5a5a5a" stroke-width="0.9" stroke-linecap="butt"/>
<circle cx="535.7" cy="365.2" r="1.75" fill="#10303a" stroke="#020405" stroke-width="0.9"/>
<line x1="557.8" y1="345.1" x2="557.8" y2="386.3" stroke="#828282" stroke-width="0.8" stroke-linecap="butt"/>
<line x1="556.8" y1="345.1" x2="558.8" y2="345.1" stroke="#5a5a5a" stroke-width="0.9" stroke-linecap="butt"/>
<line x1="556.8" y1="386.3" x2="558.8" y2="386.3" stroke="#5a5a5a" stroke-width="0.9" stroke-linecap="butt"/>
<circle cx="557.8" cy="365.6" r="1.75" fill="#10303a" stroke="#020405" stroke-width="0.9"/>
<line x1="575.6" y1="286.0" x2="575.6" y2="302.4" stroke="#828282" stroke-width="0.8" stroke-linecap="butt"/>
<line x1="574.6" y1="286.0" x2="576.6" y2="286.0" stroke="#5a5a5a" stroke-width="0.9" stroke-linecap="butt"/>
<line x1="574.6" y1="302.4" x2="576.6" y2="302.4" stroke="#5a5a5a" stroke-width="0.9" stroke-linecap="butt"/>
<circle cx="575.6" cy="294.2" r="1.75" fill="#10303a" stroke="#020405" stroke-width="0.9"/>
<line x1="595.6" y1="281.0" x2="595.6" y2="290.6" stroke="#828282" stroke-width="0.8" stroke-linecap="butt"/>
<line x1="594.6" y1="281.0" x2="596.6" y2="281.0" stroke="#5a5a5a" stroke-width="0.9" stroke-linecap="butt"/>
<line x1="594.6" y1="290.6" x2="596.6" y2="290.6" stroke="#5a5a5a" stroke-width="0.9" stroke-linecap="butt"/>
<circle cx="595.6" cy="285.8" r="1.75" fill="#10303a" stroke="#020405" stroke-width="0.9"/>
<line x1="411.41" y1="450.27" x2="609.79" y2="274.13" stroke="#ff4f4f" stroke-width="1.05"/>
<text x="476.15" y="274.60" font-size="9.7" font-weight="normal" font-style="normal" fill="#231f20" textLength="68.70" lengthAdjust="spacingAndGlyphs">Low gene PVE</text>
<text x="466.97" y="483.90" font-size="9.8" font-weight="normal" font-style="normal" fill="#231f20" textLength="86.60" lengthAdjust="spacingAndGlyphs">Mean cTWAS PIPs</text>
<g transform="translate(370.8 361.75) rotate(-90)">
<text x="-65.14" y="0" font-size="10.0" fill="#231f20" textLength="129.79" lengthAdjust="spacingAndGlyphs">Proportion of causal genes</text>
</g>
</svg>
</body></html>
